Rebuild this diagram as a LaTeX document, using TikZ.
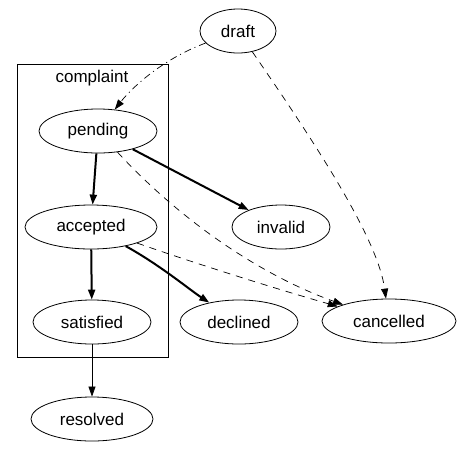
\documentclass[tikz,border=0pt]{standalone}
\usepackage{fontspec}
\setmainfont{Liberation Sans}
\usetikzlibrary{shapes.geometric,arrows.meta}

\begin{document}
\begin{tikzpicture}[x=1pt,y=-1pt,
    state/.style={draw, ellipse, inner sep=0pt, minimum height=44pt, line width=0.8pt,
                  font=\fontsize{17}{20}\selectfont},
    tip/.style={-{Triangle[length=10pt,width=7pt]}},
    strong/.style={tip, line width=2pt},
    weak/.style={tip, line width=0.7pt},
    cancelline/.style={weak, dash pattern=on 7pt off 6pt},
    draftline/.style={weak, dash pattern=on 7pt off 4pt on 1pt off 4pt}]

      \useasboundingbox (0,0) rectangle (461,459);

      % complaint cluster
      \draw[line width=0.8pt] (17,64) rectangle (168,357);                 % cluster box
      \node[font=\fontsize{17}{20}\selectfont] (complaint) at (92,78) {complaint}; % cluster label

      % states
      \node[state, minimum width=76pt]  (draft)     at (238,31)  {draft};
      \node[state, minimum width=118pt] (pending)   at (98,131)  {pending};
      \node[state, minimum width=132pt] (accepted)  at (91,227)  {accepted};
      \node[state, minimum width=118pt] (satisfied) at (92,322)  {satisfied};
      \node[state, minimum width=122pt] (resolved)  at (92,419)  {resolved};
      \node[state, minimum width=98pt]  (invalid)   at (281,227) {invalid};
      \node[state, minimum width=118pt] (declined)  at (239,322) {declined};
      \node[state, minimum width=134pt] (cancelled) at (389,321) {cancelled};

      % transitions
      \draw[draftline] (draft) .. controls (160,60) and (130,90) .. (pending);        % draft -> pending
      \draw[cancelline] (draft) .. controls (320,150) and (378,240) .. (cancelled);   % draft -> cancelled
      \draw[strong] (pending) -- (accepted);                                          % pending -> accepted
      \draw[strong] (pending) -- (invalid);                                           % pending -> invalid
      \draw[cancelline] (pending) .. controls (180,220) and (260,275) .. (cancelled); % pending -> cancelled
      \draw[cancelline] (accepted) .. controls (200,265) and (280,290) .. (cancelled);% accepted -> cancelled
      \draw[strong] (accepted) -- (satisfied);                                        % accepted -> satisfied
      \draw[strong] (accepted) .. controls (160,265) and (190,290) .. (declined);     % accepted -> declined
      \draw[weak] (satisfied) -- (resolved);                                          % satisfied -> resolved

\end{tikzpicture}
\end{document}
